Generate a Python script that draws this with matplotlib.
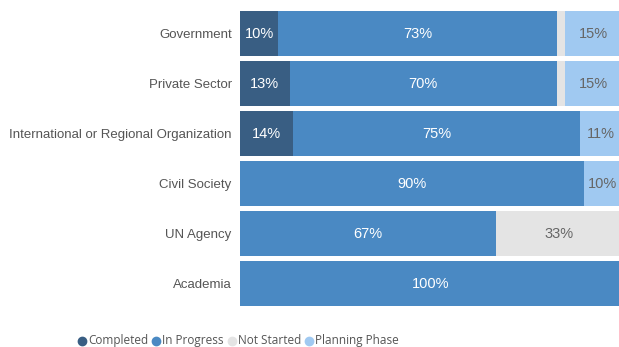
import matplotlib
matplotlib.use("Agg")
import matplotlib.pyplot as plt
from matplotlib.lines import Line2D

plt.rcParams["font.family"] = ["Liberation Sans", "DejaVu Sans"]

categories = ["Government", "Private Sector", "International or Regional Organization",
              "Civil Society", "UN Agency", "Academia"]
series_names = ["Completed", "In Progress", "Not Started", "Planning Phase"]
completed = [10, 13, 14, 0, 0, 0]
in_progress = [73, 70, 75, 90, 67, 100]
not_started = [2, 2, 0, 0, 33, 0]
planning = [15, 15, 11, 10, 0, 0]

colors = ["#395e83", "#4a89c3", "#e4e4e4", "#a0c9f1"]
label_colors = ["white", "white", "#666666", "#666666"]

W, H = 619, 347
fig = plt.figure(figsize=(W / 100, H / 100), dpi=100)
ax = fig.add_axes([240 / W, 38.5 / H, 382 / W, 300 / H])

values = [completed, in_progress, not_started, planning]
ypos = list(range(len(categories)))
left = [0] * len(categories)
for vals, col, lcol in zip(values, colors, label_colors):
    bars = ax.barh(ypos, vals, left=left, height=0.9, color=col, edgecolor="none")
    for b, v in zip(bars, vals):
        if v >= 5:
            ax.text(b.get_x() + b.get_width() / 2, b.get_y() + b.get_height() / 2,
                    f"{v}%", ha="center", va="center", color=lcol, fontsize=10.5)
    left = [l + v for l, v in zip(left, vals)]

ax.set_xlim(0, 100)
ax.set_ylim(len(categories) - 0.5, -0.5)
ax.set_yticks(ypos)
ax.set_yticklabels(categories, fontsize=9.5, color="#555555")
ax.tick_params(axis="y", length=0, pad=6)
ax.set_xticks([])
for s in ax.spines.values():
    s.set_visible(False)

# Legend row along the bottom: dot marker followed by its label
renderer = fig.canvas.get_renderer()
x_px = 82.0
dot_y = 6.5
base_y = 3.0
for name, col in zip(series_names, colors):
    fig.add_artist(Line2D([x_px / W], [dot_y / H], marker="o", markersize=6,
                          linestyle="none", markerfacecolor=col, markeredgecolor=col,
                          transform=fig.transFigure))
    t = fig.text((x_px + 6) / W, base_y / H, name, ha="left", va="baseline",
                 fontsize=8.5, color="#555555", family=["Open Sans", "DejaVu Sans"])
    w = t.get_window_extent(renderer).width
    x_px += 6 + w + 8

fig.savefig("out.png", dpi=100)
